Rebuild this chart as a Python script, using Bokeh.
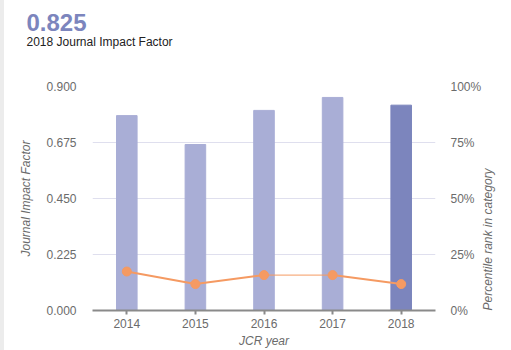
import math
from bokeh.plotting import figure
from bokeh.models import (Range1d, LinearAxis, FixedTicker, PrintfTickFormatter,
                          Title, ColumnDataSource)
from bokeh.embed import file_html
from bokeh.resources import INLINE

years = [2014, 2015, 2016, 2017, 2018]
year_labels = ["2014", "2015", "2016", "2017", "2018"]
jif = [0.783, 0.667, 0.804, 0.856, 0.825]
percentile = [17.4, 11.8, 15.8, 15.8, 11.8]
jif_ticks = [0.0, 0.225, 0.45, 0.675, 0.9]
pct_ticks = [0, 25, 50, 75, 100]
headline = "0.825"
subtitle = "2018 Journal Impact Factor"
right_label = "Percentile rank in category"

bar_colors = ["#a9aed6"] * 4 + ["#7c85bd"]
orange = "#f59a62"
gray_text = "#6b6b6b"
font = "Liberation Sans"

BORDER = 4
W, H = 511, 350
FRAME_L, FRAME_R, FRAME_T, FRAME_B = 92, 435, 86, 310

p = figure(width=W - BORDER, height=H, output_backend="svg", toolbar_location=None,
           x_range=Range1d(2013.5, 2018.5), y_range=Range1d(0, 0.9),
           min_border_left=FRAME_L - BORDER, min_border_right=W - FRAME_R,
           min_border_top=FRAME_T, min_border_bottom=H - FRAME_B)
p.styles = {"border-left": f"{BORDER}px solid #ececec"}
p.outline_line_color = None
p.xgrid.grid_line_color = None
p.ygrid.grid_line_color = "#dfdfee"
p.ygrid.grid_line_width = 1
p.ygrid.ticker = FixedTicker(ticks=jif_ticks)

p.extra_y_ranges = {"pct": Range1d(0, 100)}

src = ColumnDataSource(dict(x=years, top=jif, color=bar_colors))
p.vbar(x="x", top="top", width=0.3, color="color", source=src)

seg_w = [2, 2, 1, 2]
p.segment(x0=years[:-1], y0=percentile[:-1], x1=years[1:], y1=percentile[1:],
          line_color=orange, line_width=seg_w, y_range_name="pct")
p.scatter(years, percentile, size=9, color=orange, y_range_name="pct")

# left axis
la = p.yaxis[0]
la.ticker = FixedTicker(ticks=jif_ticks)
la.formatter = PrintfTickFormatter(format="%.3f")
la.axis_line_color = None
la.major_tick_line_color = None
la.minor_tick_line_color = None
la.major_tick_out = 0
la.major_label_standoff = 16
la.major_label_text_color = gray_text
la.major_label_text_font = font
la.major_label_text_font_size = "12px"
la.axis_label = "Journal Impact Factor"
la.axis_label_text_font = font
la.axis_label_text_font_style = "italic"
la.axis_label_text_font_size = "12px"
la.axis_label_text_color = gray_text
la.axis_label_standoff = 10

ra = LinearAxis(y_range_name="pct", ticker=FixedTicker(ticks=pct_ticks),
                formatter=PrintfTickFormatter(format="%d%%"))
ra.axis_line_color = None
ra.major_tick_line_color = None
ra.minor_tick_line_color = None
ra.major_tick_out = 0
ra.major_label_standoff = 15
ra.major_label_text_color = gray_text
ra.major_label_text_font = font
ra.major_label_text_font_size = "12px"
ra.axis_label = right_label
ra.axis_label_orientation = math.pi / 2
ra.axis_label_text_font = font
ra.axis_label_text_font_style = "italic"
ra.axis_label_text_font_size = "12px"
ra.axis_label_text_color = gray_text
ra.axis_label_standoff = 4
try:
    ra.axis_label_align = "start"
except AttributeError:
    pass
p.add_layout(ra, "right")

xa = p.xaxis[0]
xa.ticker = FixedTicker(ticks=years)
xa.major_label_overrides = {y: l for y, l in zip(years, year_labels)}
xa.axis_line_color = "#8a8a8a"
xa.axis_line_width = 2
xa.major_tick_line_color = "#8a8a8a"
xa.major_tick_line_width = 2
xa.major_tick_in = 0
xa.major_tick_out = 4
xa.minor_tick_line_color = None
xa.major_label_standoff = 4
xa.major_label_text_color = gray_text
xa.major_label_text_font = font
xa.major_label_text_font_size = "12px"
xa.axis_label = "JCR year"
xa.axis_label_text_font = font
xa.axis_label_text_font_style = "italic"
xa.axis_label_text_font_size = "12px"
xa.axis_label_text_color = gray_text
xa.axis_label_standoff = 3

# invisible (white) spacer axis between the header texts and the plot frame
spacer = LinearAxis(ticker=FixedTicker(ticks=[years[2]]))
spacer.axis_line_color = None
spacer.major_tick_line_color = "#ffffff"
spacer.major_tick_line_width = 1
spacer.minor_tick_line_color = None
spacer.major_tick_in = 0
spacer.major_tick_out = 38
spacer.minor_tick_out = 0
spacer.major_label_standoff = 0
spacer.major_label_overrides = {years[2]: ""}
spacer.major_label_text_color = None
spacer.major_label_text_font_size = "1px"
p.add_layout(spacer, "above")

p.add_layout(Title(text=subtitle, text_font=font, text_font_style="normal",
                   text_font_size="12px", text_color="#222222", align="left",
                   offset=26 - FRAME_L, standoff=0), "above")
p.add_layout(Title(text=headline, text_font=font, text_font_style="bold",
                   text_font_size="24px", text_color="#7c85bd", align="left",
                   offset=26 - FRAME_L, standoff=4), "above")

open("out.html", "w").write(file_html(p, INLINE))
